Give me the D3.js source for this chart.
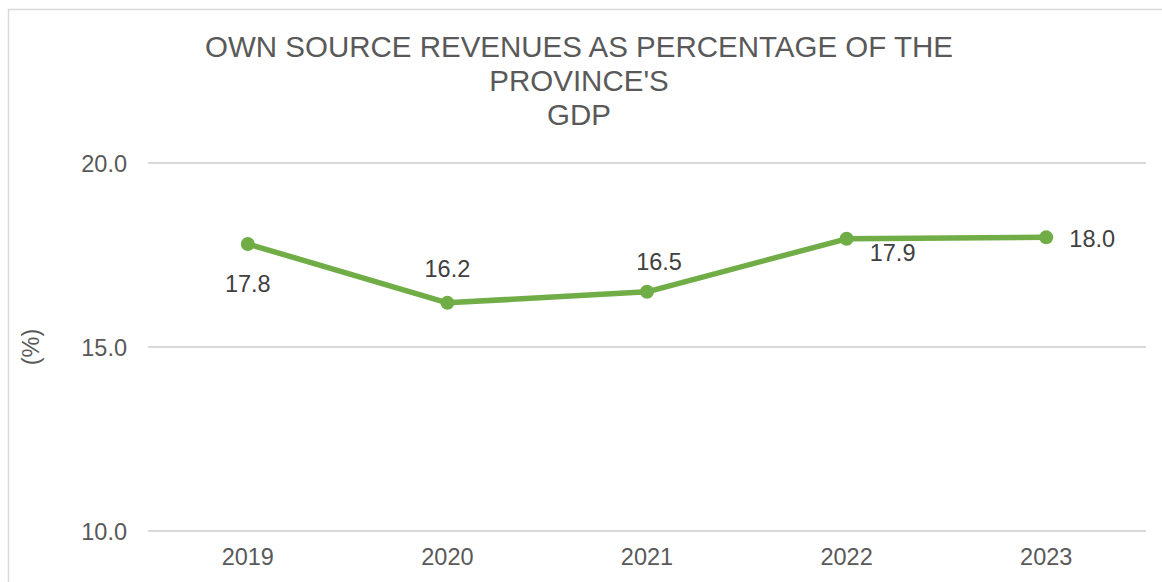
<!DOCTYPE html>
<html>
<head>
<meta charset="utf-8">
<script src="https://cdn.jsdelivr.net/npm/d3@7"></script>
<style>
body { margin: 0; background: #fff; }
svg { display: block; font-family: "Liberation Sans", Arial, sans-serif; }
</style>
</head>
<body>
<svg id="chart" width="1162" height="582"></svg>
<script>
var years = ["2019", "2020", "2021", "2022", "2023"];
var values = [17.8, 16.2, 16.5, 17.94, 17.98];
var yTicks = [10, 15, 20];
var titleLines = ["OWN SOURCE REVENUES AS PERCENTAGE OF THE", "PROVINCE'S", "GDP"];
var yTitle = "(%)";

// label placement, offsets from the point
var labelPos = [
	{dx: 0, dy: 40},
	{dx: 0, dy: -34},
	{dx: 12, dy: -30},
	{dx: 46, dy: 14},
	{dx: 46, dy: 1}
];

var svg = d3.select("#chart");
var plotL = 148, plotR = 1146, plotT = 163, plotB = 531;

// outer frame (runs off the bottom/right of the window)
svg.append("rect")
	.attr("x", 8.5).attr("y", 9.5)
	.attr("width", 1200).attr("height", 700)
	.attr("fill", "none")
	.attr("stroke", "#d9d9d9")
	.attr("stroke-width", 1.5);

var x = d3.scaleBand().domain(years).range([plotL, plotR]);
var y = d3.scaleLinear().domain([10, 20]).range([plotB, plotT]);

// title
svg.append("g").selectAll("text")
	.data(titleLines)
	.enter().append("text")
	.attr("x", 579)
	.attr("y", function (d, i) { return 57 + i * 34; })
	.attr("text-anchor", "middle")
	.attr("font-size", 29.5)
	.attr("fill", "#595959")
	.text(function (d) { return d; });

// gridlines
svg.append("g").selectAll("line")
	.data(yTicks)
	.enter().append("line")
	.attr("x1", plotL).attr("x2", plotR)
	.attr("y1", function (d) { return y(d); })
	.attr("y2", function (d) { return y(d); })
	.attr("stroke", "#d9d9d9")
	.attr("stroke-width", 2);

// y axis labels
var yAxis = svg.append("g")
	.attr("transform", "translate(" + (plotL - 21) + ",0)")
	.call(d3.axisLeft(y).tickValues(yTicks).tickFormat(d3.format(".1f")).tickSize(0).tickPadding(0));
yAxis.select(".domain").remove();
yAxis.selectAll("text")
	.attr("font-size", 23.5)
	.attr("font-family", "Liberation Sans, Arial, sans-serif")
	.attr("fill", "#595959")
	.attr("dy", "0.35em");

// x axis labels
var xAxis = svg.append("g")
	.attr("transform", "translate(0," + plotB + ")")
	.call(d3.axisBottom(x).tickSize(0).tickPadding(0));
xAxis.select(".domain").remove();
xAxis.selectAll("text")
	.attr("font-size", 23.5)
	.attr("font-family", "Liberation Sans, Arial, sans-serif")
	.attr("fill", "#595959")
	.attr("y", 34)
	.attr("dy", 0);

// y title
svg.append("text")
	.attr("transform", "translate(39," + y(15) + ") rotate(-90)")
	.attr("text-anchor", "middle")
	.attr("font-size", 23.5)
	.attr("fill", "#595959")
	.text(yTitle);

var cx = function (d, i) { return x(years[i]) + x.bandwidth() / 2; };

var line = d3.line()
	.x(function (d, i) { return cx(d, i); })
	.y(function (d) { return y(d); });

svg.append("path")
	.datum(values)
	.attr("d", line)
	.attr("fill", "none")
	.attr("stroke", "#70ad47")
	.attr("stroke-width", 5.5)
	.attr("stroke-linejoin", "round");

svg.append("g").selectAll("circle")
	.data(values)
	.enter().append("circle")
	.attr("cx", cx)
	.attr("cy", function (d) { return y(d); })
	.attr("r", 7)
	.attr("fill", "#70ad47");

svg.append("g").selectAll("text")
	.data(values)
	.enter().append("text")
	.attr("x", function (d, i) { return cx(d, i) + labelPos[i].dx; })
	.attr("y", function (d, i) { return y(d) + labelPos[i].dy; })
	.attr("dy", "0.35em")
	.attr("text-anchor", "middle")
	.attr("font-size", 23.5)
	.attr("fill", "#404040")
	.text(function (d) { return d3.format(".1f")(d); });
</script>
</body>
</html>
